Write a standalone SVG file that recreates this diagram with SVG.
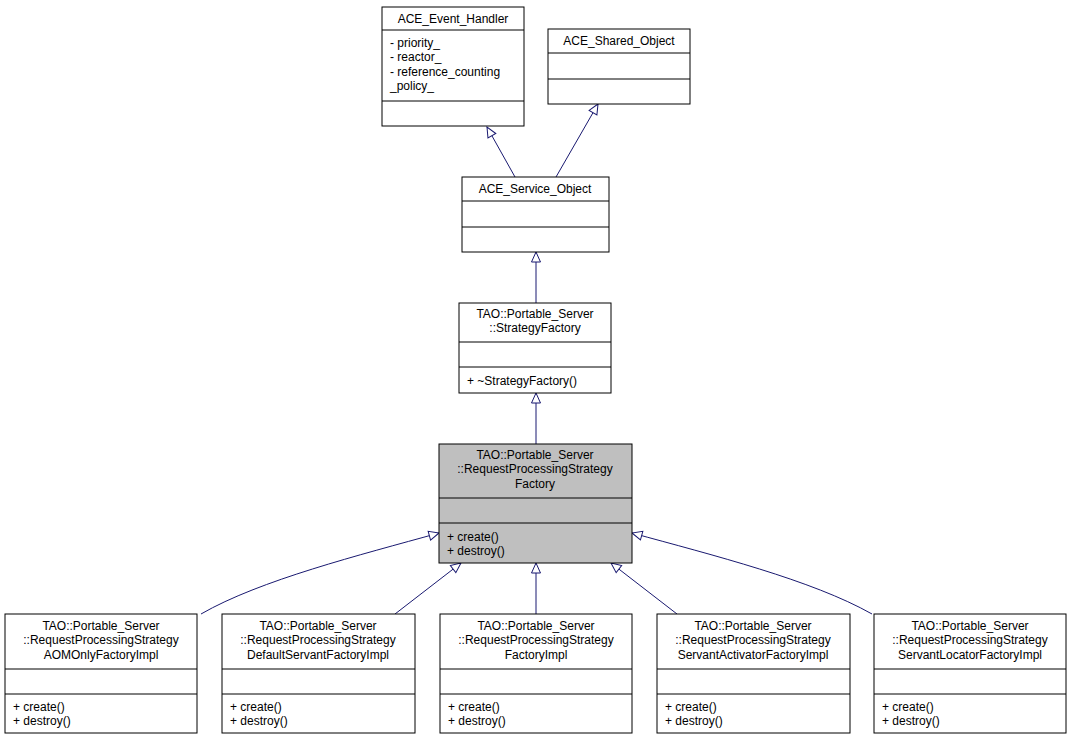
<svg xmlns="http://www.w3.org/2000/svg" width="1072" height="741" viewBox="0 0 1072 741">
<style>
.b{fill:#fff;stroke:#000;stroke-width:1}
.g{fill:#bfbfbf;stroke:#000;stroke-width:1}
text{font-family:"Liberation Sans",Arial,sans-serif;font-size:12px;fill:#000}
.c{text-anchor:middle}
.e{fill:none;stroke:#191970;stroke-width:1}
</style>
<defs>
<marker id="t" viewBox="0 0 12 12" refX="11" refY="6" markerWidth="12" markerHeight="12" markerUnits="userSpaceOnUse" orient="auto">
<path d="M11,6 L1,1.5 L1,10.5 Z" fill="#fff" stroke="#191970"/>
</marker>
</defs>
<rect width="1072" height="741" fill="#fff"/>
<g id="edges">
<path class="e" d="M515,177 L487,127" marker-end="url(#t)"/>
<path class="e" d="M556,177 L598,104" marker-end="url(#t)"/>
<path class="e" d="M536,303 L536,252" marker-end="url(#t)"/>
<path class="e" d="M536,444 L536,393" marker-end="url(#t)"/>
<path class="e" d="M201,614 C260,580 360,555 439,533" marker-end="url(#t)"/>
<path class="e" d="M395,614 L461,563" marker-end="url(#t)"/>
<path class="e" d="M536,614 L536,563" marker-end="url(#t)"/>
<path class="e" d="M677,614 L611,563" marker-end="url(#t)"/>
<path class="e" d="M872,614 C812,580 712,555 632,533" marker-end="url(#t)"/>
</g>
<g id="eh">
<rect class="b" x="382" y="7" width="142" height="119"/>
<path class="b" d="M382,30H524M382,101H524"/>
<text class="c" x="453" y="23">ACE_Event_Handler</text>
<text x="390" y="47">- priority_</text>
<text x="390" y="61">- reactor_</text>
<text x="390" y="76">- reference_counting</text>
<text x="390" y="90">_policy_</text>
</g>
<g id="so">
<rect class="b" x="548" y="29" width="142" height="75"/>
<path class="b" d="M548,53H690M548,79H690"/>
<text class="c" x="619" y="45">ACE_Shared_Object</text>
</g>
<g id="svc">
<rect class="b" x="462" y="177" width="147" height="75"/>
<path class="b" d="M462,201H609M462,227H609"/>
<text class="c" x="535" y="193">ACE_Service_Object</text>
</g>
<g id="sf">
<rect class="b" x="459" y="303" width="152" height="90"/>
<path class="b" d="M459,342H611M459,367H611"/>
<text class="c" x="535" y="318">TAO::Portable_Server</text>
<text class="c" x="535" y="332">::StrategyFactory</text>
<text x="467" y="385">+ ~StrategyFactory()</text>
</g>
<g id="rpsf">
<rect class="g" x="439" y="444" width="193" height="119"/>
<path class="b" d="M439,498H632M439,523H632"/>
<text class="c" x="535" y="459">TAO::Portable_Server</text>
<text class="c" x="535" y="473">::RequestProcessingStrategy</text>
<text class="c" x="535" y="488">Factory</text>
<text x="447" y="541">+ create()</text>
<text x="447" y="555">+ destroy()</text>
</g>
<g id="n1">
<rect class="b" x="5" y="614" width="192" height="119"/>
<path class="b" d="M5,669H197M5,694H197"/>
<text class="c" x="101" y="630">TAO::Portable_Server</text>
<text class="c" x="101" y="644">::RequestProcessingStrategy</text>
<text class="c" x="101" y="659">AOMOnlyFactoryImpl</text>
<text x="13" y="711">+ create()</text>
<text x="13" y="725">+ destroy()</text>
</g>
<g id="n2">
<rect class="b" x="222" y="614" width="193" height="119"/>
<path class="b" d="M222,669H415M222,694H415"/>
<text class="c" x="318" y="630">TAO::Portable_Server</text>
<text class="c" x="318" y="644">::RequestProcessingStrategy</text>
<text class="c" x="318" y="659">DefaultServantFactoryImpl</text>
<text x="230" y="711">+ create()</text>
<text x="230" y="725">+ destroy()</text>
</g>
<g id="n3">
<rect class="b" x="440" y="614" width="192" height="119"/>
<path class="b" d="M440,669H632M440,694H632"/>
<text class="c" x="536" y="630">TAO::Portable_Server</text>
<text class="c" x="536" y="644">::RequestProcessingStrategy</text>
<text class="c" x="536" y="659">FactoryImpl</text>
<text x="448" y="711">+ create()</text>
<text x="448" y="725">+ destroy()</text>
</g>
<g id="n4">
<rect class="b" x="657" y="614" width="193" height="119"/>
<path class="b" d="M657,669H850M657,694H850"/>
<text class="c" x="753" y="630">TAO::Portable_Server</text>
<text class="c" x="753" y="644">::RequestProcessingStrategy</text>
<text class="c" x="753" y="659">ServantActivatorFactoryImpl</text>
<text x="665" y="711">+ create()</text>
<text x="665" y="725">+ destroy()</text>
</g>
<g id="n5">
<rect class="b" x="874" y="614" width="192" height="119"/>
<path class="b" d="M874,669H1066M874,694H1066"/>
<text class="c" x="970" y="630">TAO::Portable_Server</text>
<text class="c" x="970" y="644">::RequestProcessingStrategy</text>
<text class="c" x="970" y="659">ServantLocatorFactoryImpl</text>
<text x="882" y="711">+ create()</text>
<text x="882" y="725">+ destroy()</text>
</g>
</svg>
